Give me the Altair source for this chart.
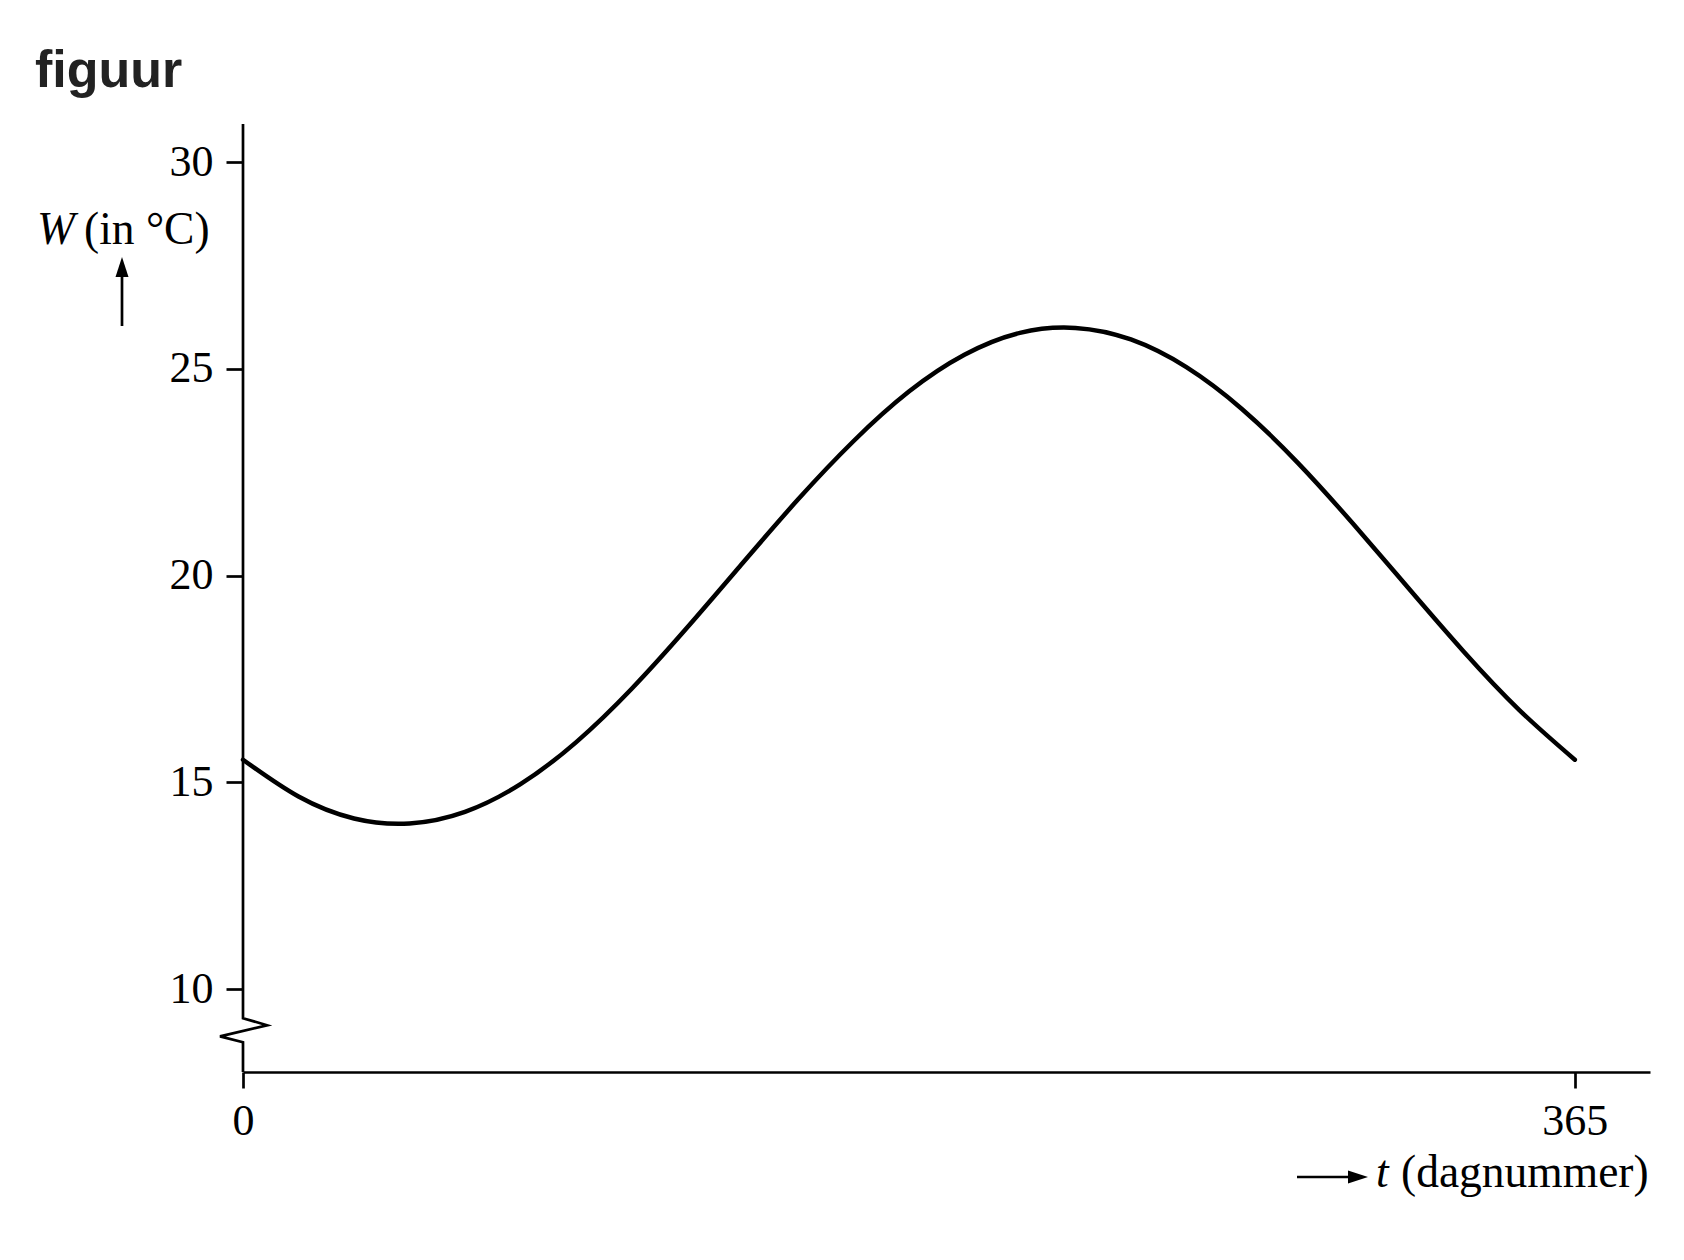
import altair as alt
import pandas as pd

t_days = [0, 15.21, 30.42, 45.63, 60.83, 76.04, 91.25, 106.46, 121.67, 136.88,
          152.08, 167.29, 182.5, 197.71, 212.92, 228.13, 243.33, 258.54, 273.75,
          288.96, 304.17, 319.38, 334.58, 349.79, 365]
W_vals = [15.55, 14.66, 14.13, 14.01, 14.29, 14.96, 15.97, 17.26, 18.74, 20.30,
          21.84, 23.25, 24.45, 25.34, 25.87, 25.99, 25.71, 25.04, 24.03,
          22.74, 21.26, 19.70, 18.16, 16.75, 15.55]

x_ticks = [0, 365]
y_ticks = [10, 15, 20, 25, 30]

# y-axis line with break symbol (data units)
axis_t = [0, 0, 6.6, -6.3, 0, 0]
axis_W = [30.92, 9.30, 9.13, 8.86, 8.72, 8.0]

X_DOM = [0, 385.6]
Y_DOM = [8.0, 30.92]
SERIF = "Liberation Serif"
FS = 44
FS_T = 45.5

curve_df = pd.DataFrame({"t": t_days, "W": W_vals})
axis_df = pd.DataFrame({"t": axis_t, "W": axis_W, "i": list(range(len(axis_t)))})

xs = alt.Scale(domain=X_DOM, nice=False, zero=False)
ys = alt.Scale(domain=Y_DOM, nice=False, zero=False)

curve = alt.Chart(curve_df).mark_line(
    color="black", strokeWidth=4.5, interpolate="natural", strokeCap="round"
).encode(
    x=alt.X("t:Q", scale=xs, axis=alt.Axis(
        values=x_ticks, tickSize=16, labelPadding=11, title=None, grid=False,
        domain=True, domainColor="black", domainWidth=2.7,
        tickColor="black", tickWidth=2.7, labelFont=SERIF, labelFontSize=FS,
        labelColor="black", labelFlush=False, labelOverlap=False)),
    y=alt.Y("W:Q", scale=ys, axis=alt.Axis(
        values=y_ticks, tickSize=17, labelPadding=13, title=None, grid=False,
        domain=False, tickColor="black", tickWidth=2.7, labelFont=SERIF,
        labelFontSize=FS, labelColor="black", labelOverlap=False)),
)

yline = alt.Chart(axis_df).mark_line(
    color="black", strokeWidth=2.7, strokeJoin="miter"
).encode(
    x=alt.X("t:Q", scale=xs),
    y=alt.Y("W:Q", scale=ys),
    order="i:Q",
)

def txt(s, x, y, italic=False, bold=False, font=SERIF, size=FS_T, color="black"):
    return alt.Chart(pd.DataFrame({"s": [s]})).mark_text(
        align="left", baseline="alphabetic", font=font, fontSize=size,
        fontStyle="italic" if italic else "normal",
        fontWeight="bold" if bold else "normal", color=color,
    ).encode(text="s:N", x=alt.value(x), y=alt.value(y))

title = txt("figuur", -208, -37, bold=True, font="Liberation Sans", size=52, color="#222222")
wlab = txt("W", -206, 120, italic=True)
wlab2 = txt("(in °C)", -159, 120)
tlab = txt("t", 1133, 1063, italic=True)
tlab2 = txt("(dagnummer)", 1158, 1063)

dummy = pd.DataFrame({"a": [0]})
up_shaft = alt.Chart(dummy).mark_rule(color="black", strokeWidth=2.7).encode(
    x=alt.value(-121), y=alt.value(150), y2=alt.value(202))
up_head = alt.Chart(dummy).mark_point(
    shape="M0,-1L0.65,1L-0.65,1Z", filled=True, color="black", opacity=1, size=400
).encode(x=alt.value(-121), y=alt.value(143))
r_shaft = alt.Chart(dummy).mark_rule(color="black", strokeWidth=2.7).encode(
    x=alt.value(1054), x2=alt.value(1110), y=alt.value(1053))
r_head = alt.Chart(dummy).mark_point(
    shape="M1,0L-1,-0.65L-1,0.65Z", filled=True, color="black", opacity=1, size=400
).encode(x=alt.value(1115), y=alt.value(1053))

chart = alt.layer(
    curve, yline, title, wlab, wlab2, tlab, tlab2, up_shaft, up_head, r_shaft, r_head
).properties(
    width=1407, height=948,
    autosize=alt.AutoSizeParams(type="none"),
    padding={"left": 235, "top": 116, "right": 20, "bottom": 160},
    background="white",
).configure_view(stroke=None)

chart.save("out.html", embed_options={"renderer": "svg", "actions": False})
